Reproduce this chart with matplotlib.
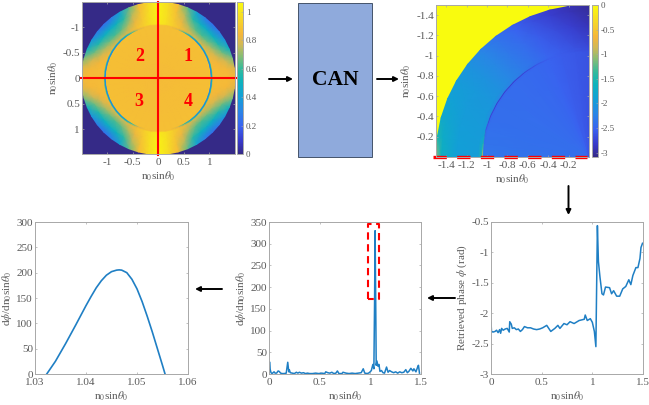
import matplotlib
matplotlib.use('Agg')
import matplotlib.pyplot as plt
import numpy as np
from matplotlib.colors import LinearSegmentedColormap
from matplotlib.patches import FancyArrowPatch, Rectangle

# colormap stops (parula look)
parula_pos = [0, .08, .18, .28, .38, .48, .56, .65, .72, .79, .88, 1]
parula_colors = ['#352a87', '#3838c8', '#3a62f0', '#2a85e6', '#12a0d6', '#0eb3bc',
                 '#35ba9c', '#8dbd72', '#d0b856', '#f5b63a', '#f6d42a', '#f9fb0e']

# intensity map: one quadrant, rows = radius, columns = angle from horizontal
angles_deg = [0, 7.5, 15, 22.5, 30, 37.5, 45, 52.5, 60, 67.5, 75, 82.5, 90]
inten_radii = [0, 1.005, 1.025, 1.04, 1.055, 1.075, 1.2, 1.35, 1.5]
inten_table = [
    [.86, .86, .86, .86, .86, .86, .86, .86, .86, .86, .86, .86, .86],
    [.87, .87, .87, .87, .87, .87, .87, .87, .87, .87, .87, .87, .87],
    [.90, .90, .90, .90, .90, .90, .89, .88, .88, .87, .87, .87, .87],
    [.28, .28, .28, .28, .28, .30, .32, .40, .58, .78, .87, .87, .87],
    [.50, .50, .50, .50, .50, .50, .52, .58, .72, .84, .88, .88, .90],
    [.86, .86, .86, .85, .82, .80, .78, .78, .82, .88, .92, .97, 1.01],
    [.86, .86, .84, .78, .72, .66, .62, .64, .72, .82, .90, .98, 1.03],
    [.86, .85, .78, .66, .56, .50, .48, .50, .58, .74, .88, .97, 1.04],
    [.85, .80, .68, .50, .36, .27, .23, .27, .42, .64, .86, .96, 1.05],
]

# retrieved phase map: same idea
phase_radii = [0, 1.03, 1.042, 1.05, 1.058, 1.09, 1.3, 1.45, 1.5]
phase_table = [
    [-2.42, -2.42, -2.42, -2.42, -2.42, -2.43, -2.44, -2.46, -2.48, -2.52, -2.56, -2.6, -2.65],
    [-2.35, -2.38, -2.4, -2.42, -2.42, -2.43, -2.44, -2.46, -2.48, -2.52, -2.56, -2.6, -2.65],
    [-2.2, -2.4, -2.48, -2.5, -2.5, -2.5, -2.5, -2.5, -2.5, -2.52, -2.56, -2.6, -2.65],
    [-0.9, -1.5, -2.6, -2.75, -2.78, -2.8, -2.8, -2.75, -2.62, -2.54, -2.57, -2.61, -2.66],
    [-1.5, -1.75, -2.0, -2.1, -2.15, -2.2, -2.25, -2.32, -2.42, -2.5, -2.58, -2.63, -2.68],
    [-1.95, -1.96, -1.97, -2.0, -2.03, -2.1, -2.2, -2.3, -2.4, -2.5, -2.58, -2.65, -2.72],
    [-1.92, -1.93, -1.95, -1.97, -2.0, -2.07, -2.2, -2.33, -2.45, -2.58, -2.68, -2.8, -2.9],
    [-1.65, -1.72, -1.82, -1.9, -1.97, -2.07, -2.22, -2.37, -2.52, -2.66, -2.8, -2.9, -3.0],
    [-1.1, -1.5, -1.78, -1.9, -1.97, -2.07, -2.24, -2.4, -2.55, -2.68, -2.82, -2.92, -3.02],
]

# retrieved phase curve
phase_x = [0, .005, .02, .04, .055, .07, .085, .095, .105, .12, .14, .16, .18, .185, .2, .21,
           .23, .25, .27, .29, .31, .33, .36, .39, .42, .45, .48, .51, .55, .59, .63, .66, .68,
           .72, .75, .78, .82, .87, .92, .93, .95, .98, 1.0, 1.02, 1.035, 1.05, 1.06, 1.075,
           1.095, 1.11, 1.13, 1.17, 1.19, 1.21, 1.24, 1.27, 1.3, 1.33, 1.36, 1.38, 1.4, 1.43,
           1.45, 1.47, 1.48, 1.495]
phase_y = [-2.15, -2.3, -2.31, -2.3, -2.28, -2.32, -2.27, -2.33, -2.25, -2.28, -2.26, -2.25,
           -2.31, -2.14, -2.18, -2.25, -2.24, -2.27, -2.26, -2.3, -2.27, -2.22, -2.24, -2.24,
           -2.26, -2.27, -2.26, -2.24, -2.2, -2.3, -2.25, -2.2, -2.25, -2.17, -2.19, -2.14,
           -2.17, -2.12, -2.1, -2.03, -2.12, -2.09, -2.15, -2.3, -2.55, -0.56, -1.15, -1.4,
           -1.68, -1.7, -1.57, -1.58, -1.68, -1.63, -1.72, -1.72, -1.6, -1.56, -1.45, -1.53,
           -1.38, -1.25, -1.25, -1.1, -.92, -.85]

# derivative over the whole range
deriv_x = [0, .005, .012, .02, .03, .05, .06, .075, .09, .1, .115, .13, .15, .17, .185, .195, .2,
           .21, .23, .25, .27, .285, .3, .32, .34, .36, .38, .4, .43, .46, .49, .52, .55, .56,
           .58, .6, .62, .64, .66, .675, .69, .72, .73, .76, .79, .82, .85, .88, .91, .93, .945,
           .97, .99, 1.01, 1.025, 1.035, 1.042, 1.047, 1.052, 1.058, 1.065, 1.075, 1.085, 1.095,
           1.11, 1.125, 1.14, 1.16, 1.175, 1.19, 1.21, 1.23, 1.25, 1.27, 1.29, 1.31, 1.33, 1.35,
           1.365, 1.38, 1.4, 1.42, 1.43, 1.45, 1.47, 1.475, 1.485]
deriv_y = [1, 28, 10, 3, 1, 5, 2, 2, 7, 6, 2, 1, 1, 2, 27, 5, 10, 3, 2, 1, 4, 2, 4, 2, 3, 1, 2, 1,
           1, 2, 1, 2, 1, 5, 3, 2, 4, 1, 2, 7, 1, 1, 4, 2, 1, 2, 1, 2, 3, 12, 2, 1, 3, 8, 22, 12,
           170, 330, 200, 20, 30, 18, 22, 6, 8, 3, 2, 16, 4, 8, 5, 3, 5, 2, 5, 3, 4, 10, 3, 6, 13,
           7, 12, 5, 18, 20, 2]

# zoom of the derivative peak
peak_x = [1.0323, 1.034, 1.036, 1.038, 1.04, 1.041, 1.042, 1.043, 1.044, 1.045, 1.046, 1.0465, 1.047,
          1.048, 1.049, 1.05, 1.051, 1.052, 1.053, 1.054, 1.055, 1.0555]
peak_y = [0, 25, 60, 97, 135, 153, 170, 184, 195, 202, 205, 205.5, 205, 200, 187, 168, 143, 114,
          83, 50, 17, 0]

plt.rcParams['font.family'] = 'Liberation Serif'
plt.rcParams['mathtext.fontset'] = 'stix'
TXT = '#5a5a5a'
BOX = '#a8a8a8'
LINE = '#1f7fc4'
XLAB = r'n$_0$sin$\theta_0$'
W, H = 649, 405

parula = LinearSegmentedColormap.from_list('parula', list(zip(parula_pos, parula_colors)))
fig = plt.figure(figsize=(W / 100, H / 100), dpi=100)


def add_axes_px(x0, y0, x1, y1):
    return fig.add_axes([x0 / W, 1 - y1 / H, (x1 - x0) / W, (y1 - y0) / H])


def style(ax):
    ax.tick_params(direction='in', length=1.5, width=0.5, color=BOX, labelcolor=TXT,
                   labelsize=8, top=True, right=True)
    ax.tick_params(axis='x', pad=3)
    ax.tick_params(axis='y', pad=1.5)
    for s in ax.spines.values():
        s.set_color(BOX)
        s.set_linewidth(0.7)


def draw_map(ax, radii, table, vmin, vmax, quadrants):
    th = np.radians(angles_deg)
    R, T = np.meshgrid(radii, th, indexing='ij')
    for sx, sy in quadrants:
        m = ax.pcolormesh(sx * R * np.cos(T), sy * R * np.sin(T), np.array(table),
                          shading='gouraud', cmap=parula, vmin=vmin, vmax=vmax)
    return m


def add_cbar(m, x0, y0, x1, y1, ticks, labels):
    cax = add_axes_px(x0, y0, x1, y1)
    cb = fig.colorbar(m, cax=cax)
    cb.set_ticks(ticks)
    cb.set_ticklabels(labels)
    cax.tick_params(direction='in', length=1.5, width=0.4, color=BOX, labelcolor=TXT,
                    labelsize=6.5, pad=2)
    cb.outline.set_edgecolor(BOX)
    cb.outline.set_linewidth(0.7)


def arrow(x0, y0, x1, y1):
    fig.add_artist(FancyArrowPatch((x0 / W, 1 - y0 / H), (x1 / W, 1 - y1 / H),
                                   transform=fig.transFigure, arrowstyle='-|>',
                                   mutation_scale=7, lw=1.4, color='black',
                                   shrinkA=0, shrinkB=0))


# intensity map
ax1 = add_axes_px(82, 2, 235, 154)
m1 = draw_map(ax1, inten_radii, inten_table, 0, 1.07, [(1, 1), (-1, 1), (-1, -1), (1, -1)])
ax1.set_facecolor(parula_colors[0])
ax1.set_xlim(-1.49, 1.5)
ax1.set_ylim(1.49, -1.5)
ax1.set_xticks([-1, -.5, 0, .5, 1], ['-1', '-0.5', '0', '0.5', '1'])
ax1.set_yticks([-1, -.5, 0, .5, 1], ['-1', '-0.5', '0', '0.5', '1'])
ax1.set_xlabel(XLAB, color=TXT, fontsize=8, labelpad=2)
ax1.set_ylabel(XLAB, color=TXT, fontsize=8, labelpad=2)
style(ax1)
ax1.plot([-1.51, 1.52], [0, 0], color='red', lw=1.5, clip_on=False)
ax1.plot([0, 0], [-1.5, 1.51], color='red', lw=1.5, clip_on=False)
for lab, x, y in [('1', .58, -.43), ('2', -.37, -.43), ('3', -.37, .45), ('4', .58, .45)]:
    ax1.text(x, y, lab, color='red', fontsize=13, fontweight='bold', ha='center', va='center')
add_cbar(m1, 237, 2, 243, 154, [0, .2, .4, .6, .8, 1], ['0', '0.2', '0.4', '0.6', '0.8', '1'])

# network box
fig.add_artist(Rectangle((297.5 / W, 1 - 157 / H), 75 / W, 154.5 / H, transform=fig.transFigure,
                         facecolor='#8faadc', edgecolor='#44546a', lw=0.7))
fig.text(335 / W, 1 - 80 / H, 'CAN', fontsize=15.5, fontweight='bold', color='black',
         ha='center', va='center')

# retrieved phase map
ax2 = add_axes_px(436, 5, 589, 157)
m2 = draw_map(ax2, phase_radii, phase_table, -3.09, 0, [(-1, -1)])
ax2.set_facecolor(parula(1.0))
ax2.set_xlim(-1.5, 0)
ax2.set_ylim(0, -1.5)
ax2.set_xticks([-1.4, -1.2, -1, -.8, -.6, -.4, -.2], ['-1.4', '-1.2', '-1', '-0.8', '-0.6', '-0.4', '-0.2'])
ax2.set_yticks([-1.4, -1.2, -1, -.8, -.6, -.4, -.2], ['-1.4', '-1.2', '-1', '-0.8', '-0.6', '-0.4', '-0.2'])
ax2.set_xlabel(XLAB, color=TXT, fontsize=8, labelpad=2)
ax2.set_ylabel(XLAB, color=TXT, fontsize=8, labelpad=2)
style(ax2)
ax2.plot([-1.53, -.02], [0, 0], color='red', lw=2.4, clip_on=False, linestyle=(0, (4.0, 3.1)))
add_cbar(m2, 592, 5, 598, 157, [-3, -2.5, -2, -1.5, -1, -.5, 0], ['-3', '-2.5', '-2', '-1.5', '-1', '-0.5', '0'])

# phase curve
ax3 = add_axes_px(491, 222, 643, 374)
ax3.plot(phase_x, phase_y, color=LINE, lw=1.1)
ax3.set_xlim(0, 1.5)
ax3.set_ylim(-3, -.5)
ax3.set_xticks([0, .5, 1, 1.5], ['0', '0.5', '1', '1.5'])
ax3.set_yticks([-3, -2.5, -2, -1.5, -1, -.5], ['-3', '-2.5', '-2', '-1.5', '-1', '-0.5'])
ax3.set_xlabel(XLAB, color=TXT, fontsize=8, labelpad=2)
ax3.set_ylabel(r'Retrieved phase $\phi$ (rad)', color=TXT, fontsize=8, labelpad=2)
style(ax3)

# derivative
ax4 = add_axes_px(269, 222, 421, 374)
ax4.plot(deriv_x, deriv_y, color=LINE, lw=1.1)
ax4.plot([.974, .974, 1.086, 1.086, .974], [173, 346, 346, 173, 173], color='red', lw=1.5,
         linestyle=(0, (3.5, 2.2)))
ax4.set_xlim(0, 1.5)
ax4.set_ylim(0, 350)
ax4.set_xticks([0, .5, 1, 1.5], ['0', '0.5', '1', '1.5'])
ax4.set_yticks(range(0, 351, 50))
ax4.set_xlabel(XLAB, color=TXT, fontsize=8, labelpad=2)
ax4.set_ylabel(r'd$\phi$/dn$_0$sin$\theta_0$', color=TXT, fontsize=8, labelpad=2)
style(ax4)

# derivative, zoomed
ax5 = add_axes_px(35, 222, 188, 374)
ax5.plot(peak_x, peak_y, color=LINE, lw=1.2)
ax5.set_xlim(1.03, 1.06)
ax5.set_ylim(0, 300)
ax5.set_xticks([1.03, 1.04, 1.05, 1.06], ['1.03', '1.04', '1.05', '1.06'])
ax5.set_yticks(range(0, 301, 50))
ax5.set_xlabel(XLAB, color=TXT, fontsize=8, labelpad=2)
ax5.set_ylabel(r'd$\phi$/dn$_0$sin$\theta_0$', color=TXT, fontsize=8, labelpad=2)
style(ax5)

arrow(269, 79, 293, 79)
arrow(377, 79, 399, 79)
arrow(568.5, 186, 568.5, 215)
arrow(455, 298, 427, 298)
arrow(222, 289, 195, 289)

fig.savefig('out.png', dpi=100)
